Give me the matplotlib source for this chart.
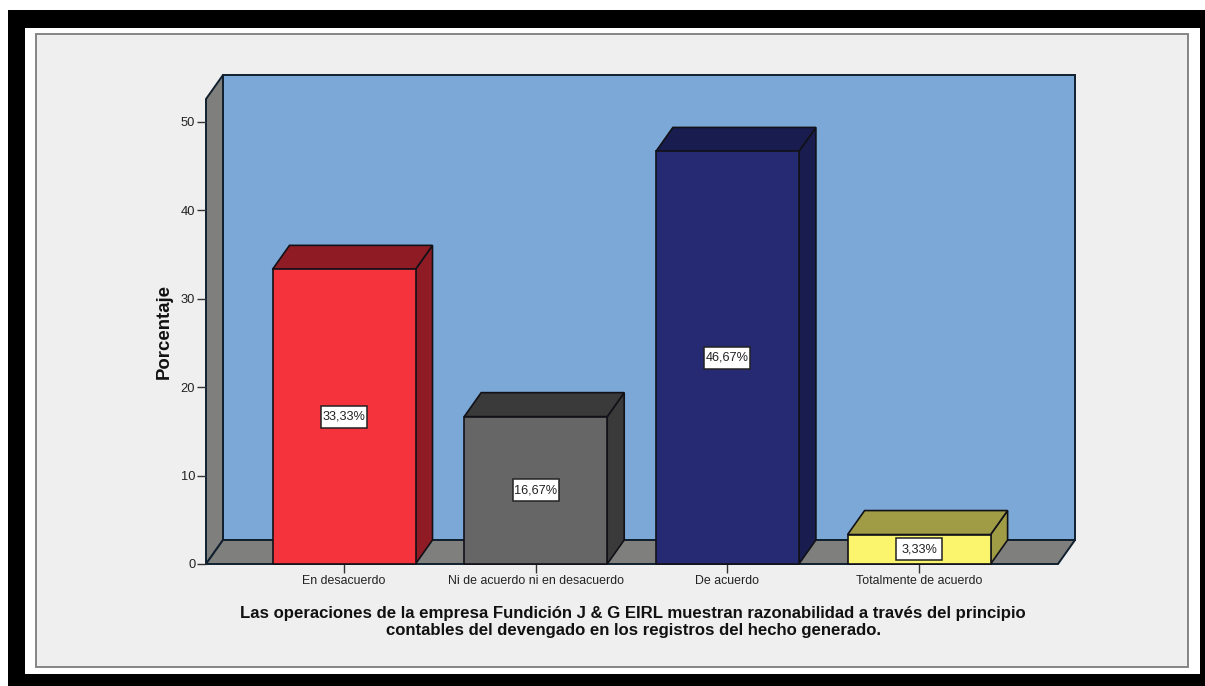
#!/usr/bin/python3
import matplotlib
matplotlib.use('Agg')
import matplotlib.pyplot as plt
from matplotlib.patches import Polygon, Rectangle

plt.rcParams['font.family'] = ['Liberation Sans', 'DejaVu Sans']

categories = ['En desacuerdo', 'Ni de acuerdo ni en desacuerdo', 'De acuerdo', 'Totalmente de acuerdo']
values = [33.33, 16.67, 46.67, 3.33]
value_labels = ['33,33%', '16,67%', '46,67%', '3,33%']
y_ticks = [0, 10, 20, 30, 40, 50]
front_colors = ['#f5333c', '#666666', '#262a73', '#fbf56e']
side_colors = ['#8f1c24', '#3a3a3a', '#191c4e', '#a09c46']

x_title = ('Las operaciones de la empresa Fundición J & G EIRL muestran razonabilidad a través del principio\n'
           'contables del devengado en los registros del hecho generado.')

W, H = 1205, 686
EDGE = '#10202e'

fig = plt.figure(figsize=(W / 100, H / 100), dpi=100, facecolor='white')


def fig_rect(x0, y0, x1, y1, **kw):
    # pixel box, y measured from the top of the image
    fig.add_artist(Rectangle((x0 / W, 1 - y1 / H), (x1 - x0) / W, (y1 - y0) / H,
                             transform=fig.transFigure, zorder=-1, **kw))


# black picture border, white mat, grey panel
fig_rect(8, 10, W + 5, H + 5, fc='black', ec='none')
fig_rect(25, 28, 1200, 674, fc='white', ec='none')
fig_rect(36, 34, 1188, 667, fc='#efefef', ec='#858585', lw=1.4)

# axes runs from front-left floor corner to back-right top corner
ax = fig.add_axes([206 / W, 1 - 564 / H, (1075 - 206) / W, (564 - 75) / H])
ax.patch.set_visible(False)
for s in ax.spines.values():
    s.set_visible(False)

px_x = 191.7       # pixels per category
px_y = 8.84        # pixels per percent
ax.set_xlim(-138 / px_x, 731 / px_x)
ax.set_ylim(0, 489 / px_y)
dx = 17 / px_x     # depth offset
dy = 24 / px_y
bar_w = 143 / px_x
box_w = 46 / px_x  # value label box
box_h = 22 / px_y
x0, x1 = ax.get_xlim()
y1 = ax.get_ylim()[1]
front_right = x1 - dx
front_top = y1 - dy

# back wall, left wall, floor
ax.add_patch(Rectangle((x0 + dx, dy), x1 - x0 - dx, y1 - dy, fc='#7ba8d6', ec=EDGE, lw=1.4, zorder=1, clip_on=False))
ax.add_patch(Polygon([(x0, 0), (x0, front_top), (x0 + dx, y1), (x0 + dx, dy)],
                     fc='#7f7f7d', ec=EDGE, lw=1.4, zorder=1, clip_on=False))
ax.add_patch(Polygon([(x0, 0), (front_right, 0), (x1, dy), (x0 + dx, dy)],
                     fc='#7f7f7d', ec=EDGE, lw=1.4, zorder=1, clip_on=False))

xs = list(range(len(categories)))
for x, v, fc, sc, lab in zip(xs, values, front_colors, side_colors, value_labels):
    l, r = x - bar_w / 2, x + bar_w / 2
    ax.add_patch(Polygon([(r, 0), (r + dx, dy), (r + dx, v + dy), (r, v)], fc=sc, ec='#111118', lw=1.2, zorder=2))
    ax.add_patch(Polygon([(l, v), (l + dx, v + dy), (r + dx, v + dy), (r, v)], fc=sc, ec='#111118', lw=1.2, zorder=2))
    ax.bar(x, v, width=bar_w, color=fc, edgecolor='#111118', linewidth=1.2, zorder=3, clip_on=False)
    ax.add_patch(Rectangle((x - box_w / 2, v / 2 - box_h / 2), box_w, box_h, fc='white', ec='#222222', lw=1.1, zorder=4))
    ax.text(x, v / 2, lab, ha='center', va='center', fontsize=9.2, color='#222222', zorder=5)

ax.set_xticks(xs)
ax.set_xticklabels(categories, fontsize=8.9, color='#222222')
ax.set_yticks(y_ticks)
ax.tick_params(axis='both', length=6.2, width=1, color='#333333', pad=1.5)
ax.tick_params(axis='y', labelsize=9.3, labelcolor='#222222')
ax.tick_params(axis='x', pad=2)

fig.text(164 / W, 1 - 331.5 / H, 'Porcentaje', rotation=90, ha='center', va='center',
         fontsize=13.4, fontweight='bold', color='#111111')
fig.text(633 / W, 1 - 622 / H, x_title, ha='center', va='center', multialignment='center',
         fontsize=12.05, fontweight='bold', color='#111111', linespacing=1.14)

fig.savefig('out.png', dpi=100, facecolor='white')
